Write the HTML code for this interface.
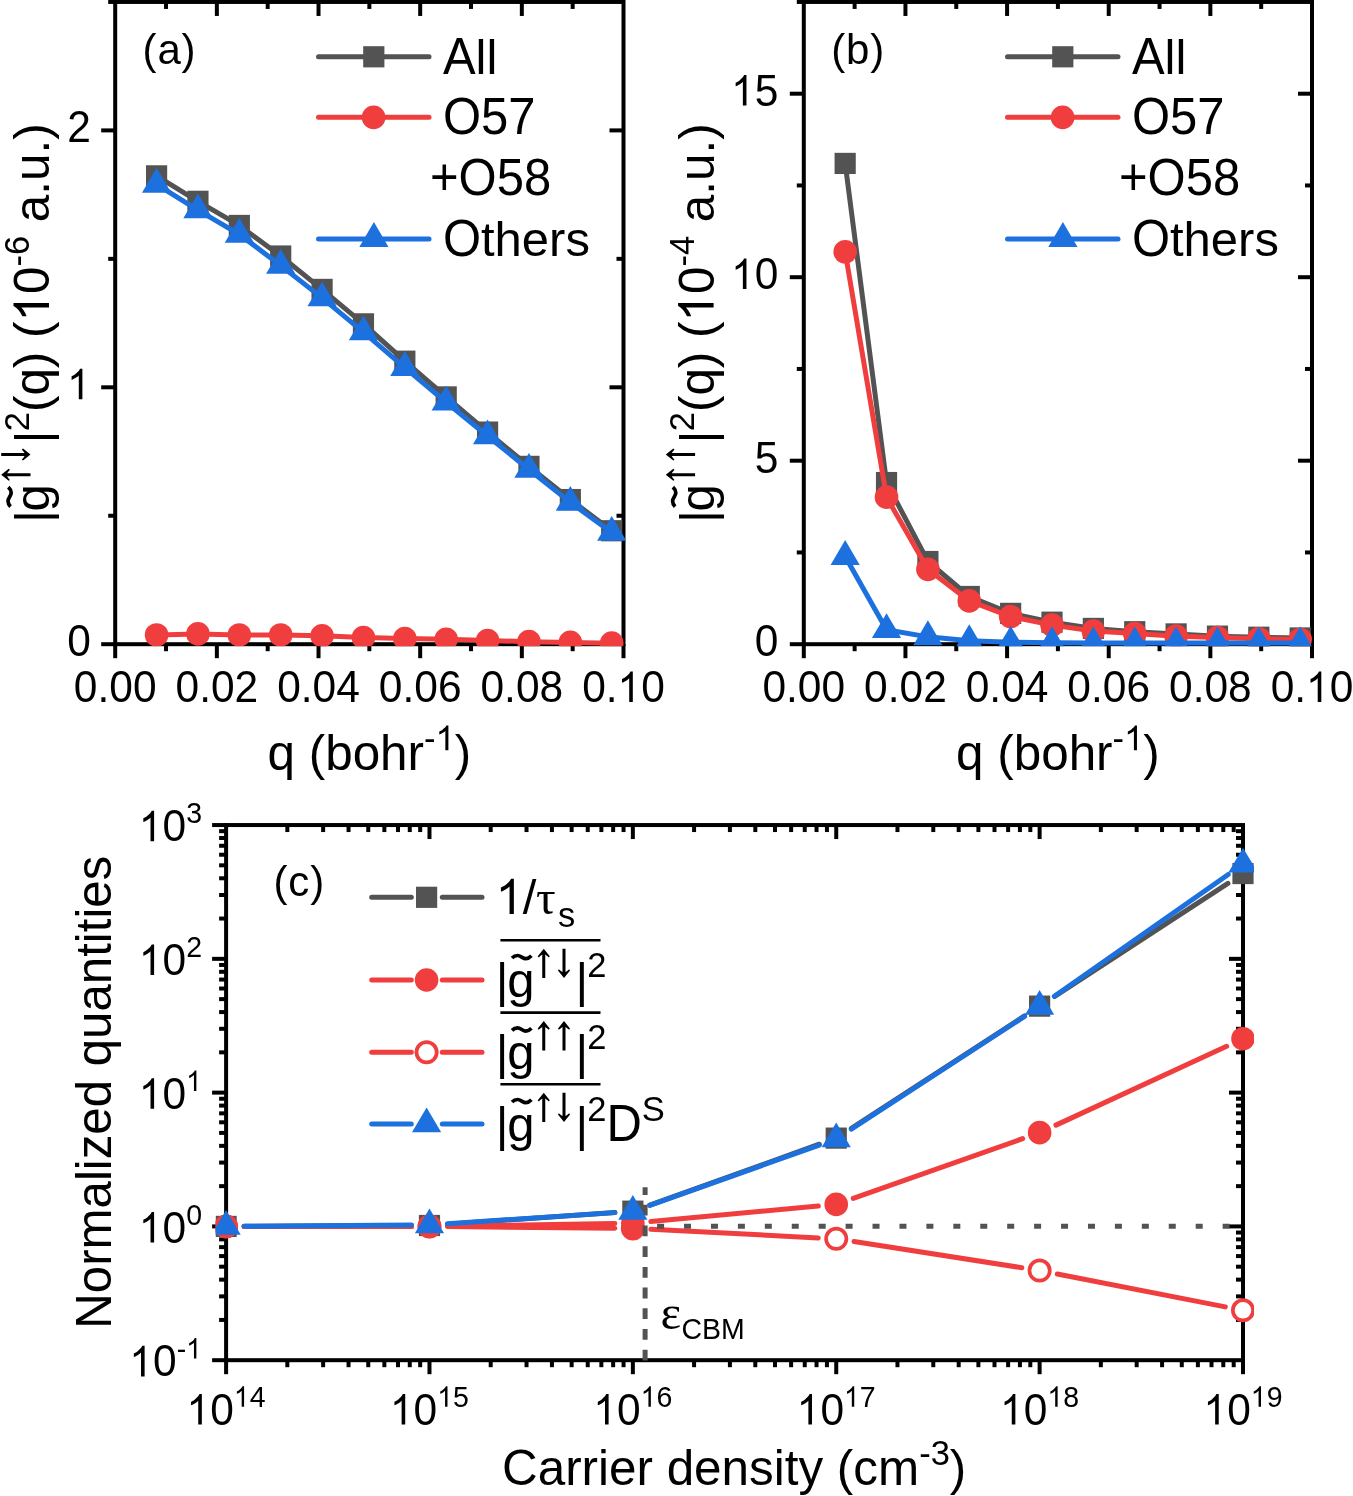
<!DOCTYPE html>
<html><head><meta charset="utf-8"><style>html,body{margin:0;padding:0;background:#fff;overflow:hidden}svg{display:block;will-change:transform}text{fill:#000}</style></head>
<body>
<svg width="1353" height="1496" viewBox="0 0 1353 1496" font-family="Liberation Sans, sans-serif">
<rect width="1353" height="1496" fill="#fff"/>
<clipPath id="clipa"><rect x="113.2" y="-0.05" width="512.3" height="646.25"/></clipPath>
<line x1="115.2" y1="644.2" x2="115.2" y2="658.2" stroke="#000" stroke-width="4" />
<line x1="166.03" y1="644.2" x2="166.03" y2="651.2" stroke="#000" stroke-width="4" />
<line x1="166.03" y1="1.95" x2="166.03" y2="8.95" stroke="#000" stroke-width="4" />
<line x1="216.86" y1="644.2" x2="216.86" y2="658.2" stroke="#000" stroke-width="4" />
<line x1="216.86" y1="1.95" x2="216.86" y2="15.95" stroke="#000" stroke-width="4" />
<line x1="267.69" y1="644.2" x2="267.69" y2="651.2" stroke="#000" stroke-width="4" />
<line x1="267.69" y1="1.95" x2="267.69" y2="8.95" stroke="#000" stroke-width="4" />
<line x1="318.52" y1="644.2" x2="318.52" y2="658.2" stroke="#000" stroke-width="4" />
<line x1="318.52" y1="1.95" x2="318.52" y2="15.95" stroke="#000" stroke-width="4" />
<line x1="369.35" y1="644.2" x2="369.35" y2="651.2" stroke="#000" stroke-width="4" />
<line x1="369.35" y1="1.95" x2="369.35" y2="8.95" stroke="#000" stroke-width="4" />
<line x1="420.18" y1="644.2" x2="420.18" y2="658.2" stroke="#000" stroke-width="4" />
<line x1="420.18" y1="1.95" x2="420.18" y2="15.95" stroke="#000" stroke-width="4" />
<line x1="471.01" y1="644.2" x2="471.01" y2="651.2" stroke="#000" stroke-width="4" />
<line x1="471.01" y1="1.95" x2="471.01" y2="8.95" stroke="#000" stroke-width="4" />
<line x1="521.84" y1="644.2" x2="521.84" y2="658.2" stroke="#000" stroke-width="4" />
<line x1="521.84" y1="1.95" x2="521.84" y2="15.95" stroke="#000" stroke-width="4" />
<line x1="572.67" y1="644.2" x2="572.67" y2="651.2" stroke="#000" stroke-width="4" />
<line x1="572.67" y1="1.95" x2="572.67" y2="8.95" stroke="#000" stroke-width="4" />
<line x1="623.5" y1="644.2" x2="623.5" y2="658.2" stroke="#000" stroke-width="4" />
<line x1="101.2" y1="644.2" x2="115.2" y2="644.2" stroke="#000" stroke-width="4" />
<line x1="108.2" y1="515.75" x2="115.2" y2="515.75" stroke="#000" stroke-width="4" />
<line x1="616.5" y1="515.75" x2="623.5" y2="515.75" stroke="#000" stroke-width="4" />
<line x1="101.2" y1="387.3" x2="115.2" y2="387.3" stroke="#000" stroke-width="4" />
<line x1="609.5" y1="387.3" x2="623.5" y2="387.3" stroke="#000" stroke-width="4" />
<line x1="108.2" y1="258.85" x2="115.2" y2="258.85" stroke="#000" stroke-width="4" />
<line x1="616.5" y1="258.85" x2="623.5" y2="258.85" stroke="#000" stroke-width="4" />
<line x1="101.2" y1="130.4" x2="115.2" y2="130.4" stroke="#000" stroke-width="4" />
<line x1="609.5" y1="130.4" x2="623.5" y2="130.4" stroke="#000" stroke-width="4" />
<line x1="108.2" y1="1.95" x2="115.2" y2="1.95" stroke="#000" stroke-width="4" />
<rect x="115.2" y="1.95" width="508.3" height="642.25" fill="none" stroke="#000" stroke-width="4" stroke-linejoin="miter"/>
<g transform="translate(73.84 702) scale(1 1.04)" ><text x="0" y="0" font-size="42.5">0.00</text></g>
<g transform="translate(175.5 702) scale(1 1.04)" ><text x="0" y="0" font-size="42.5">0.02</text></g>
<g transform="translate(277.16 702) scale(1 1.04)" ><text x="0" y="0" font-size="42.5">0.04</text></g>
<g transform="translate(378.82 702) scale(1 1.04)" ><text x="0" y="0" font-size="42.5">0.06</text></g>
<g transform="translate(480.48 702) scale(1 1.04)" ><text x="0" y="0" font-size="42.5">0.08</text></g>
<g transform="translate(582.14 702) scale(1 1.04)" ><text x="0" y="0" font-size="42.5">0.</text><path transform="translate(35.44 0) scale(0.019954 -0.019954)" d="M763 0L583 0L583 1147Q518 1085 465 1054Q412 1023 359 992Q306 961 222 930L222 1104Q373 1175 429.5 1225.5Q486 1276 542.5 1326.5Q599 1377 646 1472L763 1472Z"/><text x="59.08" y="0" font-size="42.5">0</text></g>
<g transform="translate(67.16 656.1) scale(1 1.04)" ><text x="0" y="0" font-size="42.5">0</text></g>
<g transform="translate(67.16 399.2) scale(1 1.04)" ><path transform="translate(0 0) scale(0.019954 -0.019954)" d="M763 0L583 0L583 1147Q518 1085 465 1054Q412 1023 359 992Q306 961 222 930L222 1104Q373 1175 429.5 1225.5Q486 1276 542.5 1326.5Q599 1377 646 1472L763 1472Z"/></g>
<g transform="translate(67.16 142.3) scale(1 1.04)" ><text x="0" y="0" font-size="42.5">2</text></g>
<g clip-path="url(#clipa)">
<path d="M156.58 175.87 L197.95 201.3 L239.33 225.45 L280.7 256.02 L322.08 289.42 L363.45 323.85 L404.83 361.2 L446.2 396.91 L487.58 432.08 L528.96 466.37 L570.33 499.57 L611.71 530.75" fill="none" stroke="#535353" stroke-width="5" stroke-linejoin="round" stroke-linecap="round"/>
<rect x="145.98" y="165.27" width="21.2" height="21.2" fill="#535353"/>
<rect x="187.35" y="190.7" width="21.2" height="21.2" fill="#535353"/>
<rect x="228.73" y="214.85" width="21.2" height="21.2" fill="#535353"/>
<rect x="270.1" y="245.42" width="21.2" height="21.2" fill="#535353"/>
<rect x="311.48" y="278.82" width="21.2" height="21.2" fill="#535353"/>
<rect x="352.85" y="313.25" width="21.2" height="21.2" fill="#535353"/>
<rect x="394.23" y="350.6" width="21.2" height="21.2" fill="#535353"/>
<rect x="435.6" y="386.31" width="21.2" height="21.2" fill="#535353"/>
<rect x="476.98" y="421.48" width="21.2" height="21.2" fill="#535353"/>
<rect x="518.36" y="455.77" width="21.2" height="21.2" fill="#535353"/>
<rect x="559.73" y="488.97" width="21.2" height="21.2" fill="#535353"/>
<rect x="601.11" y="520.15" width="21.2" height="21.2" fill="#535353"/>
<path d="M156.58 634.95 L197.95 633.92 L239.33 634.95 L280.7 634.95 L322.08 635.72 L363.45 637.52 L404.83 638.55 L446.2 639.32 L487.58 640.6 L528.96 641.63 L570.33 642.4 L611.71 643.17" fill="none" stroke="#F03E3E" stroke-width="5" stroke-linejoin="round" stroke-linecap="round"/>
<circle cx="156.58" cy="634.95" r="11.8" fill="#F03E3E"/>
<circle cx="197.95" cy="633.92" r="11.8" fill="#F03E3E"/>
<circle cx="239.33" cy="634.95" r="11.8" fill="#F03E3E"/>
<circle cx="280.7" cy="634.95" r="11.8" fill="#F03E3E"/>
<circle cx="322.08" cy="635.72" r="11.8" fill="#F03E3E"/>
<circle cx="363.45" cy="637.52" r="11.8" fill="#F03E3E"/>
<circle cx="404.83" cy="638.55" r="11.8" fill="#F03E3E"/>
<circle cx="446.2" cy="639.32" r="11.8" fill="#F03E3E"/>
<circle cx="487.58" cy="640.6" r="11.8" fill="#F03E3E"/>
<circle cx="528.96" cy="641.63" r="11.8" fill="#F03E3E"/>
<circle cx="570.33" cy="642.4" r="11.8" fill="#F03E3E"/>
<circle cx="611.71" cy="643.17" r="11.8" fill="#F03E3E"/>
<path d="M156.58 184.35 L197.95 210.04 L239.33 234.44 L280.7 265.53 L322.08 297.9 L363.45 332.07 L404.83 367.62 L446.2 402.3 L487.58 435.98 L528.96 469.51 L570.33 502.39 L611.71 532.45" fill="none" stroke="#1C71DE" stroke-width="5" stroke-linejoin="round" stroke-linecap="round"/>
<path d="M156.58 167.85L171.18 192.65L141.98 192.65Z" fill="#1C71DE"/>
<path d="M197.95 193.54L212.55 218.34L183.35 218.34Z" fill="#1C71DE"/>
<path d="M239.33 217.94L253.93 242.74L224.73 242.74Z" fill="#1C71DE"/>
<path d="M280.7 249.03L295.3 273.83L266.1 273.83Z" fill="#1C71DE"/>
<path d="M322.08 281.4L336.68 306.2L307.48 306.2Z" fill="#1C71DE"/>
<path d="M363.45 315.57L378.05 340.37L348.85 340.37Z" fill="#1C71DE"/>
<path d="M404.83 351.12L419.43 375.92L390.23 375.92Z" fill="#1C71DE"/>
<path d="M446.2 385.8L460.8 410.6L431.6 410.6Z" fill="#1C71DE"/>
<path d="M487.58 419.48L502.18 444.28L472.98 444.28Z" fill="#1C71DE"/>
<path d="M528.96 453.01L543.56 477.81L514.36 477.81Z" fill="#1C71DE"/>
<path d="M570.33 485.89L584.93 510.69L555.73 510.69Z" fill="#1C71DE"/>
<path d="M611.71 515.95L626.31 540.75L597.11 540.75Z" fill="#1C71DE"/>
</g>
<g transform="translate(267.53 770.2) scale(1 1.0)" ><text x="0" y="0" font-size="49.4">q (bohr</text><text x="156.52" y="-20" font-size="34.5">-</text><path transform="translate(168.01 -20) scale(0.016846 -0.016846)" d="M763 0L583 0L583 1147Q518 1085 465 1054Q412 1023 359 992Q306 961 222 930L222 1104Q373 1175 429.5 1225.5Q486 1276 542.5 1326.5Q599 1377 646 1472L763 1472Z"/><text x="187.2" y="0" font-size="49.4">)</text></g>
<g transform="translate(49 518.5) rotate(-90)">
<text x="-4.36" y="0" font-size="49">|</text>
<text x="7.04" y="0" font-size="49">g</text>
<path d="M11.9 -38.5C13.8 -40.4 15.4 -41 17.5 -41C20.6 -41 22.6 -37.8 25.8 -37.8C28 -37.8 29.6 -38.9 31.3 -40.7" fill="none" stroke="#000" stroke-width="3.7"/>
<path d="M43.65 -47.8L37.65 -40.3L38.55 -39.1Q40.65 -41 42.15 -41.9L42.15 -18.5L45.15 -18.5L45.15 -41.9Q46.65 -41 48.75 -39.1L49.65 -40.3Z" fill="#000"/>
<path d="M63.9 -18.5L57.9 -26L58.8 -27.2Q60.9 -25.3 62.4 -24.4L62.4 -47.8L65.4 -47.8L65.4 -24.4Q66.9 -25.3 69 -27.2L69.9 -26Z" fill="#000"/>
<text x="75.3" y="0" font-size="49">|</text>
<text x="87.2" y="-19.6" font-size="34.5">2</text>
<g transform="translate(106.43 0) scale(1 1.0)" ><text x="0" y="0" font-size="49.4">(q) (</text><path transform="translate(90.55 0) scale(0.024121 -0.024121)" d="M763 0L583 0L583 1147Q518 1085 465 1054Q412 1023 359 992Q306 961 222 930L222 1104Q373 1175 429.5 1225.5Q486 1276 542.5 1326.5Q599 1377 646 1472L763 1472Z"/><text x="118.02" y="0" font-size="49.4">0</text><text x="145.5" y="-20" font-size="34.5">-6</text><text x="189.9" y="0" font-size="49.4">a.u.)</text></g>
</g>
<line x1="318.5" y1="56.8" x2="429" y2="56.8" stroke="#535353" stroke-width="5" stroke-linecap="round"/>
<rect x="363.2" y="46.2" width="21.2" height="21.2" fill="#535353"/>
<line x1="318.5" y1="117.3" x2="429" y2="117.3" stroke="#F03E3E" stroke-width="5" stroke-linecap="round"/>
<circle cx="373.6" cy="117.4" r="11.8" fill="#F03E3E"/>
<line x1="318.5" y1="238.9" x2="429" y2="238.9" stroke="#1C71DE" stroke-width="5" stroke-linecap="round"/>
<path d="M373.9 222.1L388.5 246.9L359.3 246.9Z" fill="#1C71DE"/>
<text transform="translate(442.9 73.9) scale(1 1.045)" x="0" y="0" font-size="49">A</text>
<text x="475.58" y="73.9" font-size="49">ll</text>
<text transform="translate(442.9 134.4) scale(1 1.045)" x="0" y="0" font-size="49">O57</text>
<text transform="translate(430 194.7) scale(1 1.045)" x="0" y="0" font-size="49">+O58</text>
<text transform="translate(442.9 255.6) scale(1 1.045)" x="0" y="0" font-size="49">O</text>
<text x="481.01" y="255.6" font-size="49">thers</text>
<text x="142.6" y="64" font-size="42" text-anchor="start" letter-spacing="0.8">(a)</text>
<clipPath id="clipb"><rect x="801.8" y="-0.05" width="512.2" height="646.25"/></clipPath>
<line x1="803.8" y1="644.2" x2="803.8" y2="658.2" stroke="#000" stroke-width="4" />
<line x1="854.62" y1="644.2" x2="854.62" y2="651.2" stroke="#000" stroke-width="4" />
<line x1="854.62" y1="1.95" x2="854.62" y2="8.95" stroke="#000" stroke-width="4" />
<line x1="905.44" y1="644.2" x2="905.44" y2="658.2" stroke="#000" stroke-width="4" />
<line x1="905.44" y1="1.95" x2="905.44" y2="15.95" stroke="#000" stroke-width="4" />
<line x1="956.26" y1="644.2" x2="956.26" y2="651.2" stroke="#000" stroke-width="4" />
<line x1="956.26" y1="1.95" x2="956.26" y2="8.95" stroke="#000" stroke-width="4" />
<line x1="1007.08" y1="644.2" x2="1007.08" y2="658.2" stroke="#000" stroke-width="4" />
<line x1="1007.08" y1="1.95" x2="1007.08" y2="15.95" stroke="#000" stroke-width="4" />
<line x1="1057.9" y1="644.2" x2="1057.9" y2="651.2" stroke="#000" stroke-width="4" />
<line x1="1057.9" y1="1.95" x2="1057.9" y2="8.95" stroke="#000" stroke-width="4" />
<line x1="1108.72" y1="644.2" x2="1108.72" y2="658.2" stroke="#000" stroke-width="4" />
<line x1="1108.72" y1="1.95" x2="1108.72" y2="15.95" stroke="#000" stroke-width="4" />
<line x1="1159.54" y1="644.2" x2="1159.54" y2="651.2" stroke="#000" stroke-width="4" />
<line x1="1159.54" y1="1.95" x2="1159.54" y2="8.95" stroke="#000" stroke-width="4" />
<line x1="1210.36" y1="644.2" x2="1210.36" y2="658.2" stroke="#000" stroke-width="4" />
<line x1="1210.36" y1="1.95" x2="1210.36" y2="15.95" stroke="#000" stroke-width="4" />
<line x1="1261.18" y1="644.2" x2="1261.18" y2="651.2" stroke="#000" stroke-width="4" />
<line x1="1261.18" y1="1.95" x2="1261.18" y2="8.95" stroke="#000" stroke-width="4" />
<line x1="1312" y1="644.2" x2="1312" y2="658.2" stroke="#000" stroke-width="4" />
<line x1="789.8" y1="644.2" x2="803.8" y2="644.2" stroke="#000" stroke-width="4" />
<line x1="796.8" y1="552.45" x2="803.8" y2="552.45" stroke="#000" stroke-width="4" />
<line x1="1305" y1="552.45" x2="1312" y2="552.45" stroke="#000" stroke-width="4" />
<line x1="789.8" y1="460.7" x2="803.8" y2="460.7" stroke="#000" stroke-width="4" />
<line x1="1298" y1="460.7" x2="1312" y2="460.7" stroke="#000" stroke-width="4" />
<line x1="796.8" y1="368.95" x2="803.8" y2="368.95" stroke="#000" stroke-width="4" />
<line x1="1305" y1="368.95" x2="1312" y2="368.95" stroke="#000" stroke-width="4" />
<line x1="789.8" y1="277.2" x2="803.8" y2="277.2" stroke="#000" stroke-width="4" />
<line x1="1298" y1="277.2" x2="1312" y2="277.2" stroke="#000" stroke-width="4" />
<line x1="796.8" y1="185.45" x2="803.8" y2="185.45" stroke="#000" stroke-width="4" />
<line x1="1305" y1="185.45" x2="1312" y2="185.45" stroke="#000" stroke-width="4" />
<line x1="789.8" y1="93.7" x2="803.8" y2="93.7" stroke="#000" stroke-width="4" />
<line x1="1298" y1="93.7" x2="1312" y2="93.7" stroke="#000" stroke-width="4" />
<line x1="796.8" y1="1.95" x2="803.8" y2="1.95" stroke="#000" stroke-width="4" />
<rect x="803.8" y="1.95" width="508.2" height="642.25" fill="none" stroke="#000" stroke-width="4" stroke-linejoin="miter"/>
<g transform="translate(762.44 702) scale(1 1.04)" ><text x="0" y="0" font-size="42.5">0.00</text></g>
<g transform="translate(864.08 702) scale(1 1.04)" ><text x="0" y="0" font-size="42.5">0.02</text></g>
<g transform="translate(965.72 702) scale(1 1.04)" ><text x="0" y="0" font-size="42.5">0.04</text></g>
<g transform="translate(1067.36 702) scale(1 1.04)" ><text x="0" y="0" font-size="42.5">0.06</text></g>
<g transform="translate(1169 702) scale(1 1.04)" ><text x="0" y="0" font-size="42.5">0.08</text></g>
<g transform="translate(1270.64 702) scale(1 1.04)" ><text x="0" y="0" font-size="42.5">0.</text><path transform="translate(35.44 0) scale(0.019954 -0.019954)" d="M763 0L583 0L583 1147Q518 1085 465 1054Q412 1023 359 992Q306 961 222 930L222 1104Q373 1175 429.5 1225.5Q486 1276 542.5 1326.5Q599 1377 646 1472L763 1472Z"/><text x="59.08" y="0" font-size="42.5">0</text></g>
<g transform="translate(754.86 656.1) scale(1 1.04)" ><text x="0" y="0" font-size="42.5">0</text></g>
<g transform="translate(754.86 472.6) scale(1 1.04)" ><text x="0" y="0" font-size="42.5">5</text></g>
<g transform="translate(731.23 289.1) scale(1 1.04)" ><path transform="translate(0 0) scale(0.019954 -0.019954)" d="M763 0L583 0L583 1147Q518 1085 465 1054Q412 1023 359 992Q306 961 222 930L222 1104Q373 1175 429.5 1225.5Q486 1276 542.5 1326.5Q599 1377 646 1472L763 1472Z"/><text x="23.64" y="0" font-size="42.5">0</text></g>
<g transform="translate(731.23 105.6) scale(1 1.04)" ><path transform="translate(0 0) scale(0.019954 -0.019954)" d="M763 0L583 0L583 1147Q518 1085 465 1054Q412 1023 359 992Q306 961 222 930L222 1104Q373 1175 429.5 1225.5Q486 1276 542.5 1326.5Q599 1377 646 1472L763 1472Z"/><text x="23.64" y="0" font-size="42.5">5</text></g>
<g clip-path="url(#clipb)">
<path d="M845.17 163.43 L886.53 482.54 L927.9 561.51 L969.27 596.49 L1010.64 613.37 L1052 622.18 L1093.37 628.42 L1134.74 631.72 L1176.11 633.92 L1217.47 636.13 L1258.84 637.23 L1300.21 637.96" fill="none" stroke="#535353" stroke-width="5" stroke-linejoin="round" stroke-linecap="round"/>
<rect x="834.57" y="152.83" width="21.2" height="21.2" fill="#535353"/>
<rect x="875.93" y="471.94" width="21.2" height="21.2" fill="#535353"/>
<rect x="917.3" y="550.91" width="21.2" height="21.2" fill="#535353"/>
<rect x="958.67" y="585.89" width="21.2" height="21.2" fill="#535353"/>
<rect x="1000.04" y="602.77" width="21.2" height="21.2" fill="#535353"/>
<rect x="1041.4" y="611.58" width="21.2" height="21.2" fill="#535353"/>
<rect x="1082.77" y="617.82" width="21.2" height="21.2" fill="#535353"/>
<rect x="1124.14" y="621.12" width="21.2" height="21.2" fill="#535353"/>
<rect x="1165.51" y="623.32" width="21.2" height="21.2" fill="#535353"/>
<rect x="1206.87" y="625.53" width="21.2" height="21.2" fill="#535353"/>
<rect x="1248.24" y="626.63" width="21.2" height="21.2" fill="#535353"/>
<rect x="1289.61" y="627.36" width="21.2" height="21.2" fill="#535353"/>
<path d="M845.17 251.88 L886.53 497.14 L927.9 569.33 L969.27 600.89 L1010.64 616.56 L1052 625.12 L1093.37 630.99 L1134.74 633.56 L1176.11 636.13 L1217.47 637.59 L1258.84 638.7 L1300.21 639.43" fill="none" stroke="#F03E3E" stroke-width="5" stroke-linejoin="round" stroke-linecap="round"/>
<circle cx="845.17" cy="251.88" r="11.8" fill="#F03E3E"/>
<circle cx="886.53" cy="497.14" r="11.8" fill="#F03E3E"/>
<circle cx="927.9" cy="569.33" r="11.8" fill="#F03E3E"/>
<circle cx="969.27" cy="600.89" r="11.8" fill="#F03E3E"/>
<circle cx="1010.64" cy="616.56" r="11.8" fill="#F03E3E"/>
<circle cx="1052" cy="625.12" r="11.8" fill="#F03E3E"/>
<circle cx="1093.37" cy="630.99" r="11.8" fill="#F03E3E"/>
<circle cx="1134.74" cy="633.56" r="11.8" fill="#F03E3E"/>
<circle cx="1176.11" cy="636.13" r="11.8" fill="#F03E3E"/>
<circle cx="1217.47" cy="637.59" r="11.8" fill="#F03E3E"/>
<circle cx="1258.84" cy="638.7" r="11.8" fill="#F03E3E"/>
<circle cx="1300.21" cy="639.43" r="11.8" fill="#F03E3E"/>
<path d="M845.17 556.6 L886.53 629.78 L927.9 636.86 L969.27 640.79 L1010.64 642.18 L1052 642.73 L1093.37 642.92 L1134.74 643.1 L1176.11 643.1 L1217.47 643.1 L1258.84 643.1 L1300.21 643.1" fill="none" stroke="#1C71DE" stroke-width="5" stroke-linejoin="round" stroke-linecap="round"/>
<path d="M845.17 540.1L859.77 564.9L830.57 564.9Z" fill="#1C71DE"/>
<path d="M886.53 613.28L901.13 638.08L871.93 638.08Z" fill="#1C71DE"/>
<path d="M927.9 620.36L942.5 645.16L913.3 645.16Z" fill="#1C71DE"/>
<path d="M969.27 624.29L983.87 649.09L954.67 649.09Z" fill="#1C71DE"/>
<path d="M1010.64 625.68L1025.24 650.48L996.04 650.48Z" fill="#1C71DE"/>
<path d="M1052 626.23L1066.6 651.03L1037.4 651.03Z" fill="#1C71DE"/>
<path d="M1093.37 626.42L1107.97 651.22L1078.77 651.22Z" fill="#1C71DE"/>
<path d="M1134.74 626.6L1149.34 651.4L1120.14 651.4Z" fill="#1C71DE"/>
<path d="M1176.11 626.6L1190.71 651.4L1161.51 651.4Z" fill="#1C71DE"/>
<path d="M1217.47 626.6L1232.07 651.4L1202.87 651.4Z" fill="#1C71DE"/>
<path d="M1258.84 626.6L1273.44 651.4L1244.24 651.4Z" fill="#1C71DE"/>
<path d="M1300.21 626.6L1314.81 651.4L1285.61 651.4Z" fill="#1C71DE"/>
</g>
<g transform="translate(956.08 770.2) scale(1 1.0)" ><text x="0" y="0" font-size="49.4">q (bohr</text><text x="156.52" y="-20" font-size="34.5">-</text><path transform="translate(168.01 -20) scale(0.016846 -0.016846)" d="M763 0L583 0L583 1147Q518 1085 465 1054Q412 1023 359 992Q306 961 222 930L222 1104Q373 1175 429.5 1225.5Q486 1276 542.5 1326.5Q599 1377 646 1472L763 1472Z"/><text x="187.2" y="0" font-size="49.4">)</text></g>
<g transform="translate(713.6 518.5) rotate(-90)">
<text x="-4.36" y="0" font-size="49">|</text>
<text x="7.04" y="0" font-size="49">g</text>
<path d="M11.9 -38.5C13.8 -40.4 15.4 -41 17.5 -41C20.6 -41 22.6 -37.8 25.8 -37.8C28 -37.8 29.6 -38.9 31.3 -40.7" fill="none" stroke="#000" stroke-width="3.7"/>
<path d="M43.65 -47.8L37.65 -40.3L38.55 -39.1Q40.65 -41 42.15 -41.9L42.15 -18.5L45.15 -18.5L45.15 -41.9Q46.65 -41 48.75 -39.1L49.65 -40.3Z" fill="#000"/>
<path d="M63.9 -47.8L57.9 -40.3L58.8 -39.1Q60.9 -41 62.4 -41.9L62.4 -18.5L65.4 -18.5L65.4 -41.9Q66.9 -41 69 -39.1L69.9 -40.3Z" fill="#000"/>
<text x="75.3" y="0" font-size="49">|</text>
<text x="87.2" y="-19.6" font-size="34.5">2</text>
<g transform="translate(106.43 0) scale(1 1.0)" ><text x="0" y="0" font-size="49.4">(q) (</text><path transform="translate(90.55 0) scale(0.024121 -0.024121)" d="M763 0L583 0L583 1147Q518 1085 465 1054Q412 1023 359 992Q306 961 222 930L222 1104Q373 1175 429.5 1225.5Q486 1276 542.5 1326.5Q599 1377 646 1472L763 1472Z"/><text x="118.02" y="0" font-size="49.4">0</text><text x="145.5" y="-20" font-size="34.5">-4</text><text x="189.9" y="0" font-size="49.4">a.u.)</text></g>
</g>
<line x1="1007.5" y1="56.8" x2="1118" y2="56.8" stroke="#535353" stroke-width="5" stroke-linecap="round"/>
<rect x="1052.2" y="46.2" width="21.2" height="21.2" fill="#535353"/>
<line x1="1007.5" y1="117.3" x2="1118" y2="117.3" stroke="#F03E3E" stroke-width="5" stroke-linecap="round"/>
<circle cx="1062.6" cy="117.4" r="11.8" fill="#F03E3E"/>
<line x1="1007.5" y1="238.9" x2="1118" y2="238.9" stroke="#1C71DE" stroke-width="5" stroke-linecap="round"/>
<path d="M1062.9 222.1L1077.5 246.9L1048.3 246.9Z" fill="#1C71DE"/>
<text transform="translate(1131.9 73.9) scale(1 1.045)" x="0" y="0" font-size="49">A</text>
<text x="1164.58" y="73.9" font-size="49">ll</text>
<text transform="translate(1131.9 134.4) scale(1 1.045)" x="0" y="0" font-size="49">O57</text>
<text transform="translate(1119 194.7) scale(1 1.045)" x="0" y="0" font-size="49">+O58</text>
<text transform="translate(1131.9 255.6) scale(1 1.045)" x="0" y="0" font-size="49">O</text>
<text x="1170.01" y="255.6" font-size="49">thers</text>
<text x="831.3" y="64" font-size="42" text-anchor="start" letter-spacing="0.8">(b)</text>
<clipPath id="clipc"><rect x="215.6" y="814.05" width="1038.4" height="557.15"/></clipPath>
<line x1="226.1" y1="1360.2" x2="226.1" y2="1374.2" stroke="#000" stroke-width="4" />
<line x1="287.32" y1="1360.2" x2="287.32" y2="1367.2" stroke="#000" stroke-width="4" />
<line x1="287.32" y1="825.05" x2="287.32" y2="832.05" stroke="#000" stroke-width="4" />
<line x1="323.14" y1="1360.2" x2="323.14" y2="1367.2" stroke="#000" stroke-width="4" />
<line x1="323.14" y1="825.05" x2="323.14" y2="832.05" stroke="#000" stroke-width="4" />
<line x1="348.55" y1="1360.2" x2="348.55" y2="1367.2" stroke="#000" stroke-width="4" />
<line x1="348.55" y1="825.05" x2="348.55" y2="832.05" stroke="#000" stroke-width="4" />
<line x1="368.26" y1="1360.2" x2="368.26" y2="1367.2" stroke="#000" stroke-width="4" />
<line x1="368.26" y1="825.05" x2="368.26" y2="832.05" stroke="#000" stroke-width="4" />
<line x1="384.36" y1="1360.2" x2="384.36" y2="1367.2" stroke="#000" stroke-width="4" />
<line x1="384.36" y1="825.05" x2="384.36" y2="832.05" stroke="#000" stroke-width="4" />
<line x1="397.98" y1="1360.2" x2="397.98" y2="1367.2" stroke="#000" stroke-width="4" />
<line x1="397.98" y1="825.05" x2="397.98" y2="832.05" stroke="#000" stroke-width="4" />
<line x1="409.77" y1="1360.2" x2="409.77" y2="1367.2" stroke="#000" stroke-width="4" />
<line x1="409.77" y1="825.05" x2="409.77" y2="832.05" stroke="#000" stroke-width="4" />
<line x1="420.17" y1="1360.2" x2="420.17" y2="1367.2" stroke="#000" stroke-width="4" />
<line x1="420.17" y1="825.05" x2="420.17" y2="832.05" stroke="#000" stroke-width="4" />
<line x1="429.48" y1="1360.2" x2="429.48" y2="1374.2" stroke="#000" stroke-width="4" />
<line x1="429.48" y1="825.05" x2="429.48" y2="839.05" stroke="#000" stroke-width="4" />
<line x1="490.7" y1="1360.2" x2="490.7" y2="1367.2" stroke="#000" stroke-width="4" />
<line x1="490.7" y1="825.05" x2="490.7" y2="832.05" stroke="#000" stroke-width="4" />
<line x1="526.52" y1="1360.2" x2="526.52" y2="1367.2" stroke="#000" stroke-width="4" />
<line x1="526.52" y1="825.05" x2="526.52" y2="832.05" stroke="#000" stroke-width="4" />
<line x1="551.93" y1="1360.2" x2="551.93" y2="1367.2" stroke="#000" stroke-width="4" />
<line x1="551.93" y1="825.05" x2="551.93" y2="832.05" stroke="#000" stroke-width="4" />
<line x1="571.64" y1="1360.2" x2="571.64" y2="1367.2" stroke="#000" stroke-width="4" />
<line x1="571.64" y1="825.05" x2="571.64" y2="832.05" stroke="#000" stroke-width="4" />
<line x1="587.74" y1="1360.2" x2="587.74" y2="1367.2" stroke="#000" stroke-width="4" />
<line x1="587.74" y1="825.05" x2="587.74" y2="832.05" stroke="#000" stroke-width="4" />
<line x1="601.36" y1="1360.2" x2="601.36" y2="1367.2" stroke="#000" stroke-width="4" />
<line x1="601.36" y1="825.05" x2="601.36" y2="832.05" stroke="#000" stroke-width="4" />
<line x1="613.15" y1="1360.2" x2="613.15" y2="1367.2" stroke="#000" stroke-width="4" />
<line x1="613.15" y1="825.05" x2="613.15" y2="832.05" stroke="#000" stroke-width="4" />
<line x1="623.55" y1="1360.2" x2="623.55" y2="1367.2" stroke="#000" stroke-width="4" />
<line x1="623.55" y1="825.05" x2="623.55" y2="832.05" stroke="#000" stroke-width="4" />
<line x1="632.86" y1="1360.2" x2="632.86" y2="1374.2" stroke="#000" stroke-width="4" />
<line x1="632.86" y1="825.05" x2="632.86" y2="839.05" stroke="#000" stroke-width="4" />
<line x1="694.08" y1="1360.2" x2="694.08" y2="1367.2" stroke="#000" stroke-width="4" />
<line x1="694.08" y1="825.05" x2="694.08" y2="832.05" stroke="#000" stroke-width="4" />
<line x1="729.9" y1="1360.2" x2="729.9" y2="1367.2" stroke="#000" stroke-width="4" />
<line x1="729.9" y1="825.05" x2="729.9" y2="832.05" stroke="#000" stroke-width="4" />
<line x1="755.31" y1="1360.2" x2="755.31" y2="1367.2" stroke="#000" stroke-width="4" />
<line x1="755.31" y1="825.05" x2="755.31" y2="832.05" stroke="#000" stroke-width="4" />
<line x1="775.02" y1="1360.2" x2="775.02" y2="1367.2" stroke="#000" stroke-width="4" />
<line x1="775.02" y1="825.05" x2="775.02" y2="832.05" stroke="#000" stroke-width="4" />
<line x1="791.12" y1="1360.2" x2="791.12" y2="1367.2" stroke="#000" stroke-width="4" />
<line x1="791.12" y1="825.05" x2="791.12" y2="832.05" stroke="#000" stroke-width="4" />
<line x1="804.74" y1="1360.2" x2="804.74" y2="1367.2" stroke="#000" stroke-width="4" />
<line x1="804.74" y1="825.05" x2="804.74" y2="832.05" stroke="#000" stroke-width="4" />
<line x1="816.53" y1="1360.2" x2="816.53" y2="1367.2" stroke="#000" stroke-width="4" />
<line x1="816.53" y1="825.05" x2="816.53" y2="832.05" stroke="#000" stroke-width="4" />
<line x1="826.93" y1="1360.2" x2="826.93" y2="1367.2" stroke="#000" stroke-width="4" />
<line x1="826.93" y1="825.05" x2="826.93" y2="832.05" stroke="#000" stroke-width="4" />
<line x1="836.24" y1="1360.2" x2="836.24" y2="1374.2" stroke="#000" stroke-width="4" />
<line x1="836.24" y1="825.05" x2="836.24" y2="839.05" stroke="#000" stroke-width="4" />
<line x1="897.46" y1="1360.2" x2="897.46" y2="1367.2" stroke="#000" stroke-width="4" />
<line x1="897.46" y1="825.05" x2="897.46" y2="832.05" stroke="#000" stroke-width="4" />
<line x1="933.28" y1="1360.2" x2="933.28" y2="1367.2" stroke="#000" stroke-width="4" />
<line x1="933.28" y1="825.05" x2="933.28" y2="832.05" stroke="#000" stroke-width="4" />
<line x1="958.69" y1="1360.2" x2="958.69" y2="1367.2" stroke="#000" stroke-width="4" />
<line x1="958.69" y1="825.05" x2="958.69" y2="832.05" stroke="#000" stroke-width="4" />
<line x1="978.4" y1="1360.2" x2="978.4" y2="1367.2" stroke="#000" stroke-width="4" />
<line x1="978.4" y1="825.05" x2="978.4" y2="832.05" stroke="#000" stroke-width="4" />
<line x1="994.5" y1="1360.2" x2="994.5" y2="1367.2" stroke="#000" stroke-width="4" />
<line x1="994.5" y1="825.05" x2="994.5" y2="832.05" stroke="#000" stroke-width="4" />
<line x1="1008.12" y1="1360.2" x2="1008.12" y2="1367.2" stroke="#000" stroke-width="4" />
<line x1="1008.12" y1="825.05" x2="1008.12" y2="832.05" stroke="#000" stroke-width="4" />
<line x1="1019.91" y1="1360.2" x2="1019.91" y2="1367.2" stroke="#000" stroke-width="4" />
<line x1="1019.91" y1="825.05" x2="1019.91" y2="832.05" stroke="#000" stroke-width="4" />
<line x1="1030.31" y1="1360.2" x2="1030.31" y2="1367.2" stroke="#000" stroke-width="4" />
<line x1="1030.31" y1="825.05" x2="1030.31" y2="832.05" stroke="#000" stroke-width="4" />
<line x1="1039.62" y1="1360.2" x2="1039.62" y2="1374.2" stroke="#000" stroke-width="4" />
<line x1="1039.62" y1="825.05" x2="1039.62" y2="839.05" stroke="#000" stroke-width="4" />
<line x1="1100.84" y1="1360.2" x2="1100.84" y2="1367.2" stroke="#000" stroke-width="4" />
<line x1="1100.84" y1="825.05" x2="1100.84" y2="832.05" stroke="#000" stroke-width="4" />
<line x1="1136.66" y1="1360.2" x2="1136.66" y2="1367.2" stroke="#000" stroke-width="4" />
<line x1="1136.66" y1="825.05" x2="1136.66" y2="832.05" stroke="#000" stroke-width="4" />
<line x1="1162.07" y1="1360.2" x2="1162.07" y2="1367.2" stroke="#000" stroke-width="4" />
<line x1="1162.07" y1="825.05" x2="1162.07" y2="832.05" stroke="#000" stroke-width="4" />
<line x1="1181.78" y1="1360.2" x2="1181.78" y2="1367.2" stroke="#000" stroke-width="4" />
<line x1="1181.78" y1="825.05" x2="1181.78" y2="832.05" stroke="#000" stroke-width="4" />
<line x1="1197.88" y1="1360.2" x2="1197.88" y2="1367.2" stroke="#000" stroke-width="4" />
<line x1="1197.88" y1="825.05" x2="1197.88" y2="832.05" stroke="#000" stroke-width="4" />
<line x1="1211.5" y1="1360.2" x2="1211.5" y2="1367.2" stroke="#000" stroke-width="4" />
<line x1="1211.5" y1="825.05" x2="1211.5" y2="832.05" stroke="#000" stroke-width="4" />
<line x1="1223.29" y1="1360.2" x2="1223.29" y2="1367.2" stroke="#000" stroke-width="4" />
<line x1="1223.29" y1="825.05" x2="1223.29" y2="832.05" stroke="#000" stroke-width="4" />
<line x1="1233.69" y1="1360.2" x2="1233.69" y2="1367.2" stroke="#000" stroke-width="4" />
<line x1="1233.69" y1="825.05" x2="1233.69" y2="832.05" stroke="#000" stroke-width="4" />
<line x1="1243" y1="1360.2" x2="1243" y2="1374.2" stroke="#000" stroke-width="4" />
<line x1="212.1" y1="1360.2" x2="226.1" y2="1360.2" stroke="#000" stroke-width="4" />
<line x1="219.1" y1="1319.93" x2="226.1" y2="1319.93" stroke="#000" stroke-width="4" />
<line x1="1236" y1="1319.93" x2="1243" y2="1319.93" stroke="#000" stroke-width="4" />
<line x1="219.1" y1="1296.37" x2="226.1" y2="1296.37" stroke="#000" stroke-width="4" />
<line x1="1236" y1="1296.37" x2="1243" y2="1296.37" stroke="#000" stroke-width="4" />
<line x1="219.1" y1="1279.65" x2="226.1" y2="1279.65" stroke="#000" stroke-width="4" />
<line x1="1236" y1="1279.65" x2="1243" y2="1279.65" stroke="#000" stroke-width="4" />
<line x1="219.1" y1="1266.69" x2="226.1" y2="1266.69" stroke="#000" stroke-width="4" />
<line x1="1236" y1="1266.69" x2="1243" y2="1266.69" stroke="#000" stroke-width="4" />
<line x1="219.1" y1="1256.09" x2="226.1" y2="1256.09" stroke="#000" stroke-width="4" />
<line x1="1236" y1="1256.09" x2="1243" y2="1256.09" stroke="#000" stroke-width="4" />
<line x1="219.1" y1="1247.14" x2="226.1" y2="1247.14" stroke="#000" stroke-width="4" />
<line x1="1236" y1="1247.14" x2="1243" y2="1247.14" stroke="#000" stroke-width="4" />
<line x1="219.1" y1="1239.38" x2="226.1" y2="1239.38" stroke="#000" stroke-width="4" />
<line x1="1236" y1="1239.38" x2="1243" y2="1239.38" stroke="#000" stroke-width="4" />
<line x1="219.1" y1="1232.53" x2="226.1" y2="1232.53" stroke="#000" stroke-width="4" />
<line x1="1236" y1="1232.53" x2="1243" y2="1232.53" stroke="#000" stroke-width="4" />
<line x1="212.1" y1="1226.41" x2="226.1" y2="1226.41" stroke="#000" stroke-width="4" />
<line x1="1229" y1="1226.41" x2="1243" y2="1226.41" stroke="#000" stroke-width="4" />
<line x1="219.1" y1="1186.14" x2="226.1" y2="1186.14" stroke="#000" stroke-width="4" />
<line x1="1236" y1="1186.14" x2="1243" y2="1186.14" stroke="#000" stroke-width="4" />
<line x1="219.1" y1="1162.58" x2="226.1" y2="1162.58" stroke="#000" stroke-width="4" />
<line x1="1236" y1="1162.58" x2="1243" y2="1162.58" stroke="#000" stroke-width="4" />
<line x1="219.1" y1="1145.86" x2="226.1" y2="1145.86" stroke="#000" stroke-width="4" />
<line x1="1236" y1="1145.86" x2="1243" y2="1145.86" stroke="#000" stroke-width="4" />
<line x1="219.1" y1="1132.9" x2="226.1" y2="1132.9" stroke="#000" stroke-width="4" />
<line x1="1236" y1="1132.9" x2="1243" y2="1132.9" stroke="#000" stroke-width="4" />
<line x1="219.1" y1="1122.31" x2="226.1" y2="1122.31" stroke="#000" stroke-width="4" />
<line x1="1236" y1="1122.31" x2="1243" y2="1122.31" stroke="#000" stroke-width="4" />
<line x1="219.1" y1="1113.35" x2="226.1" y2="1113.35" stroke="#000" stroke-width="4" />
<line x1="1236" y1="1113.35" x2="1243" y2="1113.35" stroke="#000" stroke-width="4" />
<line x1="219.1" y1="1105.59" x2="226.1" y2="1105.59" stroke="#000" stroke-width="4" />
<line x1="1236" y1="1105.59" x2="1243" y2="1105.59" stroke="#000" stroke-width="4" />
<line x1="219.1" y1="1098.75" x2="226.1" y2="1098.75" stroke="#000" stroke-width="4" />
<line x1="1236" y1="1098.75" x2="1243" y2="1098.75" stroke="#000" stroke-width="4" />
<line x1="212.1" y1="1092.62" x2="226.1" y2="1092.62" stroke="#000" stroke-width="4" />
<line x1="1229" y1="1092.62" x2="1243" y2="1092.62" stroke="#000" stroke-width="4" />
<line x1="219.1" y1="1052.35" x2="226.1" y2="1052.35" stroke="#000" stroke-width="4" />
<line x1="1236" y1="1052.35" x2="1243" y2="1052.35" stroke="#000" stroke-width="4" />
<line x1="219.1" y1="1028.79" x2="226.1" y2="1028.79" stroke="#000" stroke-width="4" />
<line x1="1236" y1="1028.79" x2="1243" y2="1028.79" stroke="#000" stroke-width="4" />
<line x1="219.1" y1="1012.08" x2="226.1" y2="1012.08" stroke="#000" stroke-width="4" />
<line x1="1236" y1="1012.08" x2="1243" y2="1012.08" stroke="#000" stroke-width="4" />
<line x1="219.1" y1="999.11" x2="226.1" y2="999.11" stroke="#000" stroke-width="4" />
<line x1="1236" y1="999.11" x2="1243" y2="999.11" stroke="#000" stroke-width="4" />
<line x1="219.1" y1="988.52" x2="226.1" y2="988.52" stroke="#000" stroke-width="4" />
<line x1="1236" y1="988.52" x2="1243" y2="988.52" stroke="#000" stroke-width="4" />
<line x1="219.1" y1="979.56" x2="226.1" y2="979.56" stroke="#000" stroke-width="4" />
<line x1="1236" y1="979.56" x2="1243" y2="979.56" stroke="#000" stroke-width="4" />
<line x1="219.1" y1="971.8" x2="226.1" y2="971.8" stroke="#000" stroke-width="4" />
<line x1="1236" y1="971.8" x2="1243" y2="971.8" stroke="#000" stroke-width="4" />
<line x1="219.1" y1="964.96" x2="226.1" y2="964.96" stroke="#000" stroke-width="4" />
<line x1="1236" y1="964.96" x2="1243" y2="964.96" stroke="#000" stroke-width="4" />
<line x1="212.1" y1="958.84" x2="226.1" y2="958.84" stroke="#000" stroke-width="4" />
<line x1="1229" y1="958.84" x2="1243" y2="958.84" stroke="#000" stroke-width="4" />
<line x1="219.1" y1="918.56" x2="226.1" y2="918.56" stroke="#000" stroke-width="4" />
<line x1="1236" y1="918.56" x2="1243" y2="918.56" stroke="#000" stroke-width="4" />
<line x1="219.1" y1="895" x2="226.1" y2="895" stroke="#000" stroke-width="4" />
<line x1="1236" y1="895" x2="1243" y2="895" stroke="#000" stroke-width="4" />
<line x1="219.1" y1="878.29" x2="226.1" y2="878.29" stroke="#000" stroke-width="4" />
<line x1="1236" y1="878.29" x2="1243" y2="878.29" stroke="#000" stroke-width="4" />
<line x1="219.1" y1="865.32" x2="226.1" y2="865.32" stroke="#000" stroke-width="4" />
<line x1="1236" y1="865.32" x2="1243" y2="865.32" stroke="#000" stroke-width="4" />
<line x1="219.1" y1="854.73" x2="226.1" y2="854.73" stroke="#000" stroke-width="4" />
<line x1="1236" y1="854.73" x2="1243" y2="854.73" stroke="#000" stroke-width="4" />
<line x1="219.1" y1="845.77" x2="226.1" y2="845.77" stroke="#000" stroke-width="4" />
<line x1="1236" y1="845.77" x2="1243" y2="845.77" stroke="#000" stroke-width="4" />
<line x1="219.1" y1="838.02" x2="226.1" y2="838.02" stroke="#000" stroke-width="4" />
<line x1="1236" y1="838.02" x2="1243" y2="838.02" stroke="#000" stroke-width="4" />
<line x1="219.1" y1="831.17" x2="226.1" y2="831.17" stroke="#000" stroke-width="4" />
<line x1="1236" y1="831.17" x2="1243" y2="831.17" stroke="#000" stroke-width="4" />
<line x1="212.1" y1="825.05" x2="226.1" y2="825.05" stroke="#000" stroke-width="4" />
<rect x="226.1" y="825.05" width="1016.9" height="535.15" fill="none" stroke="#000" stroke-width="4" stroke-linejoin="miter"/>
<g transform="translate(186.61 1424.6) scale(1 1.04)" ><path transform="translate(0 0) scale(0.019954 -0.019954)" d="M763 0L583 0L583 1147Q518 1085 465 1054Q412 1023 359 992Q306 961 222 930L222 1104Q373 1175 429.5 1225.5Q486 1276 542.5 1326.5Q599 1377 646 1472L763 1472Z"/><text x="23.64" y="0" font-size="42.5">0</text><path transform="translate(47.27 -17.12) scale(0.013381 -0.013381)" d="M763 0L583 0L583 1147Q518 1085 465 1054Q412 1023 359 992Q306 961 222 930L222 1104Q373 1175 429.5 1225.5Q486 1276 542.5 1326.5Q599 1377 646 1472L763 1472Z"/><text x="63.12" y="-17.12" font-size="28.5">4</text></g>
<g transform="translate(389.99 1424.6) scale(1 1.04)" ><path transform="translate(0 0) scale(0.019954 -0.019954)" d="M763 0L583 0L583 1147Q518 1085 465 1054Q412 1023 359 992Q306 961 222 930L222 1104Q373 1175 429.5 1225.5Q486 1276 542.5 1326.5Q599 1377 646 1472L763 1472Z"/><text x="23.64" y="0" font-size="42.5">0</text><path transform="translate(47.27 -17.12) scale(0.013381 -0.013381)" d="M763 0L583 0L583 1147Q518 1085 465 1054Q412 1023 359 992Q306 961 222 930L222 1104Q373 1175 429.5 1225.5Q486 1276 542.5 1326.5Q599 1377 646 1472L763 1472Z"/><text x="63.12" y="-17.12" font-size="28.5">5</text></g>
<g transform="translate(593.37 1424.6) scale(1 1.04)" ><path transform="translate(0 0) scale(0.019954 -0.019954)" d="M763 0L583 0L583 1147Q518 1085 465 1054Q412 1023 359 992Q306 961 222 930L222 1104Q373 1175 429.5 1225.5Q486 1276 542.5 1326.5Q599 1377 646 1472L763 1472Z"/><text x="23.64" y="0" font-size="42.5">0</text><path transform="translate(47.27 -17.12) scale(0.013381 -0.013381)" d="M763 0L583 0L583 1147Q518 1085 465 1054Q412 1023 359 992Q306 961 222 930L222 1104Q373 1175 429.5 1225.5Q486 1276 542.5 1326.5Q599 1377 646 1472L763 1472Z"/><text x="63.12" y="-17.12" font-size="28.5">6</text></g>
<g transform="translate(796.75 1424.6) scale(1 1.04)" ><path transform="translate(0 0) scale(0.019954 -0.019954)" d="M763 0L583 0L583 1147Q518 1085 465 1054Q412 1023 359 992Q306 961 222 930L222 1104Q373 1175 429.5 1225.5Q486 1276 542.5 1326.5Q599 1377 646 1472L763 1472Z"/><text x="23.64" y="0" font-size="42.5">0</text><path transform="translate(47.27 -17.12) scale(0.013381 -0.013381)" d="M763 0L583 0L583 1147Q518 1085 465 1054Q412 1023 359 992Q306 961 222 930L222 1104Q373 1175 429.5 1225.5Q486 1276 542.5 1326.5Q599 1377 646 1472L763 1472Z"/><text x="63.12" y="-17.12" font-size="28.5">7</text></g>
<g transform="translate(1000.13 1424.6) scale(1 1.04)" ><path transform="translate(0 0) scale(0.019954 -0.019954)" d="M763 0L583 0L583 1147Q518 1085 465 1054Q412 1023 359 992Q306 961 222 930L222 1104Q373 1175 429.5 1225.5Q486 1276 542.5 1326.5Q599 1377 646 1472L763 1472Z"/><text x="23.64" y="0" font-size="42.5">0</text><path transform="translate(47.27 -17.12) scale(0.013381 -0.013381)" d="M763 0L583 0L583 1147Q518 1085 465 1054Q412 1023 359 992Q306 961 222 930L222 1104Q373 1175 429.5 1225.5Q486 1276 542.5 1326.5Q599 1377 646 1472L763 1472Z"/><text x="63.12" y="-17.12" font-size="28.5">8</text></g>
<g transform="translate(1203.51 1424.6) scale(1 1.04)" ><path transform="translate(0 0) scale(0.019954 -0.019954)" d="M763 0L583 0L583 1147Q518 1085 465 1054Q412 1023 359 992Q306 961 222 930L222 1104Q373 1175 429.5 1225.5Q486 1276 542.5 1326.5Q599 1377 646 1472L763 1472Z"/><text x="23.64" y="0" font-size="42.5">0</text><path transform="translate(47.27 -17.12) scale(0.013381 -0.013381)" d="M763 0L583 0L583 1147Q518 1085 465 1054Q412 1023 359 992Q306 961 222 930L222 1104Q373 1175 429.5 1225.5Q486 1276 542.5 1326.5Q599 1377 646 1472L763 1472Z"/><text x="63.12" y="-17.12" font-size="28.5">9</text></g>
<g transform="translate(129.39 1376.4) scale(1 1.04)" ><path transform="translate(0 0) scale(0.019954 -0.019954)" d="M763 0L583 0L583 1147Q518 1085 465 1054Q412 1023 359 992Q306 961 222 930L222 1104Q373 1175 429.5 1225.5Q486 1276 542.5 1326.5Q599 1377 646 1472L763 1472Z"/><text x="23.64" y="0" font-size="42.5">0</text><text x="47.27" y="-17.12" font-size="28.5">-</text><path transform="translate(56.76 -17.12) scale(0.013381 -0.013381)" d="M763 0L583 0L583 1147Q518 1085 465 1054Q412 1023 359 992Q306 961 222 930L222 1104Q373 1175 429.5 1225.5Q486 1276 542.5 1326.5Q599 1377 646 1472L763 1472Z"/></g>
<g transform="translate(138.88 1242.61) scale(1 1.04)" ><path transform="translate(0 0) scale(0.019954 -0.019954)" d="M763 0L583 0L583 1147Q518 1085 465 1054Q412 1023 359 992Q306 961 222 930L222 1104Q373 1175 429.5 1225.5Q486 1276 542.5 1326.5Q599 1377 646 1472L763 1472Z"/><text x="23.64" y="0" font-size="42.5">0</text><text x="47.27" y="-17.12" font-size="28.5">0</text></g>
<g transform="translate(138.88 1108.83) scale(1 1.04)" ><path transform="translate(0 0) scale(0.019954 -0.019954)" d="M763 0L583 0L583 1147Q518 1085 465 1054Q412 1023 359 992Q306 961 222 930L222 1104Q373 1175 429.5 1225.5Q486 1276 542.5 1326.5Q599 1377 646 1472L763 1472Z"/><text x="23.64" y="0" font-size="42.5">0</text><path transform="translate(47.27 -17.12) scale(0.013381 -0.013381)" d="M763 0L583 0L583 1147Q518 1085 465 1054Q412 1023 359 992Q306 961 222 930L222 1104Q373 1175 429.5 1225.5Q486 1276 542.5 1326.5Q599 1377 646 1472L763 1472Z"/></g>
<g transform="translate(138.88 975.04) scale(1 1.04)" ><path transform="translate(0 0) scale(0.019954 -0.019954)" d="M763 0L583 0L583 1147Q518 1085 465 1054Q412 1023 359 992Q306 961 222 930L222 1104Q373 1175 429.5 1225.5Q486 1276 542.5 1326.5Q599 1377 646 1472L763 1472Z"/><text x="23.64" y="0" font-size="42.5">0</text><text x="47.27" y="-17.12" font-size="28.5">2</text></g>
<g transform="translate(138.88 841.25) scale(1 1.04)" ><path transform="translate(0 0) scale(0.019954 -0.019954)" d="M763 0L583 0L583 1147Q518 1085 465 1054Q412 1023 359 992Q306 961 222 930L222 1104Q373 1175 429.5 1225.5Q486 1276 542.5 1326.5Q599 1377 646 1472L763 1472Z"/><text x="23.64" y="0" font-size="42.5">0</text><text x="47.27" y="-17.12" font-size="28.5">3</text></g>
<g clip-path="url(#clipc)">
<line x1="244.1" y1="1226.33" x2="411.48" y2="1225.57" stroke="#535353" stroke-width="5" stroke-linecap="round"/>
<line x1="447.44" y1="1224.23" x2="614.9" y2="1212.43" stroke="#535353" stroke-width="5" stroke-linecap="round"/>
<line x1="649.8" y1="1205.08" x2="819.3" y2="1144.21" stroke="#535353" stroke-width="5" stroke-linecap="round"/>
<line x1="851.34" y1="1128.33" x2="1024.52" y2="1015.94" stroke="#535353" stroke-width="5" stroke-linecap="round"/>
<line x1="1054.7" y1="996.31" x2="1227.92" y2="883.38" stroke="#535353" stroke-width="5" stroke-linecap="round"/>
<rect x="215.5" y="1215.81" width="21.2" height="21.2" fill="#535353"/>
<rect x="418.88" y="1214.89" width="21.2" height="21.2" fill="#535353"/>
<rect x="622.26" y="1200.57" width="21.2" height="21.2" fill="#535353"/>
<rect x="825.64" y="1127.52" width="21.2" height="21.2" fill="#535353"/>
<rect x="1029.02" y="995.54" width="21.2" height="21.2" fill="#535353"/>
<rect x="1232.4" y="862.95" width="21.2" height="21.2" fill="#535353"/>
<line x1="244.1" y1="1226.41" x2="411.48" y2="1226.41" stroke="#F03E3E" stroke-width="5" stroke-linecap="round"/>
<line x1="447.48" y1="1226.59" x2="614.86" y2="1228.24" stroke="#F03E3E" stroke-width="5" stroke-linecap="round"/>
<line x1="650.84" y1="1229.34" x2="818.26" y2="1237.88" stroke="#F03E3E" stroke-width="5" stroke-linecap="round"/>
<line x1="854.02" y1="1241.57" x2="1021.84" y2="1267.75" stroke="#F03E3E" stroke-width="5" stroke-linecap="round"/>
<line x1="1057.29" y1="1273.98" x2="1225.33" y2="1306.85" stroke="#F03E3E" stroke-width="5" stroke-linecap="round"/>
<circle cx="226.1" cy="1226.41" r="10.15" fill="#fff" stroke="#F03E3E" stroke-width="3.7"/>
<circle cx="429.48" cy="1226.41" r="10.15" fill="#fff" stroke="#F03E3E" stroke-width="3.7"/>
<circle cx="632.86" cy="1228.42" r="10.15" fill="#fff" stroke="#F03E3E" stroke-width="3.7"/>
<circle cx="836.24" cy="1238.8" r="10.15" fill="#fff" stroke="#F03E3E" stroke-width="3.7"/>
<circle cx="1039.62" cy="1270.53" r="10.15" fill="#fff" stroke="#F03E3E" stroke-width="3.7"/>
<circle cx="1243" cy="1310.31" r="10.15" fill="#fff" stroke="#F03E3E" stroke-width="3.7"/>
<circle cx="632.86" cy="1228.42" r="10" fill="#F03E3E"/>
<line x1="244.1" y1="1226.41" x2="411.48" y2="1226.41" stroke="#F03E3E" stroke-width="5" stroke-linecap="round"/>
<line x1="447.48" y1="1226.13" x2="614.86" y2="1223.53" stroke="#F03E3E" stroke-width="5" stroke-linecap="round"/>
<line x1="650.78" y1="1221.59" x2="818.32" y2="1206.08" stroke="#F03E3E" stroke-width="5" stroke-linecap="round"/>
<line x1="853.21" y1="1198.44" x2="1022.65" y2="1138.66" stroke="#F03E3E" stroke-width="5" stroke-linecap="round"/>
<line x1="1055.96" y1="1125.12" x2="1226.66" y2="1046.24" stroke="#F03E3E" stroke-width="5" stroke-linecap="round"/>
<circle cx="226.1" cy="1226.41" r="11.8" fill="#F03E3E"/>
<circle cx="429.48" cy="1226.41" r="11.8" fill="#F03E3E"/>
<circle cx="632.86" cy="1223.25" r="11.8" fill="#F03E3E"/>
<circle cx="836.24" cy="1204.42" r="11.8" fill="#F03E3E"/>
<circle cx="1039.62" cy="1132.67" r="11.8" fill="#F03E3E"/>
<circle cx="1243" cy="1038.69" r="11.8" fill="#F03E3E"/>
<line x1="645.1" y1="1360.5" x2="645.1" y2="1187.2" stroke="#535353" stroke-width="5" stroke-dasharray="10.8 9.9"/>
<line x1="657.1" y1="1226.2" x2="1242" y2="1226.2" stroke="#535353" stroke-width="5" stroke-dasharray="7 19.93"/>
<line x1="244.1" y1="1226.28" x2="411.48" y2="1225.05" stroke="#1C71DE" stroke-width="5" stroke-linecap="round"/>
<line x1="447.44" y1="1223.73" x2="614.9" y2="1212.63" stroke="#1C71DE" stroke-width="5" stroke-linecap="round"/>
<line x1="649.82" y1="1205.4" x2="819.28" y2="1145.06" stroke="#1C71DE" stroke-width="5" stroke-linecap="round"/>
<line x1="851.32" y1="1129.2" x2="1024.54" y2="1016.36" stroke="#1C71DE" stroke-width="5" stroke-linecap="round"/>
<line x1="1054.37" y1="996.22" x2="1228.25" y2="874.5" stroke="#1C71DE" stroke-width="5" stroke-linecap="round"/>
<path d="M226.1 1209.91L240.7 1234.71L211.5 1234.71Z" fill="#1C71DE"/>
<path d="M429.48 1208.42L444.08 1233.22L414.88 1233.22Z" fill="#1C71DE"/>
<path d="M632.86 1194.94L647.46 1219.74L618.26 1219.74Z" fill="#1C71DE"/>
<path d="M836.24 1122.52L850.84 1147.32L821.64 1147.32Z" fill="#1C71DE"/>
<path d="M1039.62 990.04L1054.22 1014.84L1025.02 1014.84Z" fill="#1C71DE"/>
<path d="M1243 847.67L1257.6 872.47L1228.4 872.47Z" fill="#1C71DE"/>
</g>
<text x="660.5" y="1328.6" font-size="49" font-family="Liberation Serif, serif">ε</text>
<text transform="translate(681.5 1339.3) scale(1 1.04)" x="0" y="0" font-size="28.5">CBM</text>
<text x="273.4" y="896.2" font-size="42" text-anchor="start" letter-spacing="0.9">(c)</text>
<text x="734.15" y="1484.8" font-size="49.4" text-anchor="middle">Carrier density (cm<tspan font-size="34.5" dy="-20">-3</tspan><tspan dy="20">)</tspan></text>
<text transform="translate(111 1092.2) rotate(-90)" x="0" y="0" font-size="49.2" text-anchor="middle">Normalized quantities</text>
<line x1="371.7" y1="897.3" x2="411.3" y2="897.3" stroke="#535353" stroke-width="5" stroke-linecap="round"/>
<line x1="442.3" y1="897.3" x2="482" y2="897.3" stroke="#535353" stroke-width="5" stroke-linecap="round"/>
<rect x="416" y="886.7" width="21.2" height="21.2" fill="#535353"/>
<line x1="371.7" y1="980" x2="411.3" y2="980" stroke="#F03E3E" stroke-width="5" stroke-linecap="round"/>
<line x1="442.3" y1="980" x2="482" y2="980" stroke="#F03E3E" stroke-width="5" stroke-linecap="round"/>
<circle cx="426.6" cy="980" r="11.8" fill="#F03E3E"/>
<line x1="371.7" y1="1052.3" x2="411.3" y2="1052.3" stroke="#F03E3E" stroke-width="5" stroke-linecap="round"/>
<line x1="442.3" y1="1052.3" x2="482" y2="1052.3" stroke="#F03E3E" stroke-width="5" stroke-linecap="round"/>
<circle cx="426.6" cy="1052.3" r="10.15" fill="#fff" stroke="#F03E3E" stroke-width="3.7"/>
<line x1="371.7" y1="1123.9" x2="411.3" y2="1123.9" stroke="#1C71DE" stroke-width="5" stroke-linecap="round"/>
<line x1="442.3" y1="1123.9" x2="482" y2="1123.9" stroke="#1C71DE" stroke-width="5" stroke-linecap="round"/>
<path d="M426.6 1107.4L441.2 1132.2L412 1132.2Z" fill="#1C71DE"/>
<g transform="translate(495.6 914) scale(1 1.0)" ><path transform="translate(0 0) scale(0.023926 -0.023926)" d="M763 0L583 0L583 1147Q518 1085 465 1054Q412 1023 359 992Q306 961 222 930L222 1104Q373 1175 429.5 1225.5Q486 1276 542.5 1326.5Q599 1377 646 1472L763 1472Z"/><text x="27.25" y="0" font-size="49">/</text></g>
<text x="536.1" y="914" font-size="49" font-family="Liberation Serif, serif">τ</text>
<text x="558" y="927.4" font-size="34.5">s</text>
<g transform="translate(500.1 996.5)">
<text x="-4.36" y="0" font-size="49">|</text>
<text x="7.04" y="0" font-size="49">g</text>
<path d="M11.9 -38.5C13.8 -40.4 15.4 -41 17.5 -41C20.6 -41 22.6 -37.8 25.8 -37.8C28 -37.8 29.6 -38.9 31.3 -40.7" fill="none" stroke="#000" stroke-width="3.7"/>
<path d="M43.65 -47.8L37.65 -40.3L38.55 -39.1Q40.65 -41 42.15 -41.9L42.15 -18.5L45.15 -18.5L45.15 -41.9Q46.65 -41 48.75 -39.1L49.65 -40.3Z" fill="#000"/>
<path d="M63.9 -18.5L57.9 -26L58.8 -27.2Q60.9 -25.3 62.4 -24.4L62.4 -47.8L65.4 -47.8L65.4 -24.4Q66.9 -25.3 69 -27.2L69.9 -26Z" fill="#000"/>
<text x="75.3" y="0" font-size="49">|</text>
<text x="87.2" y="-19.6" font-size="34.5">2</text>
</g>
<line x1="500.4" y1="940.2" x2="600.5" y2="940.2" stroke="#000" stroke-width="2.6"/>
<g transform="translate(500.1 1068.9)">
<text x="-4.36" y="0" font-size="49">|</text>
<text x="7.04" y="0" font-size="49">g</text>
<path d="M11.9 -38.5C13.8 -40.4 15.4 -41 17.5 -41C20.6 -41 22.6 -37.8 25.8 -37.8C28 -37.8 29.6 -38.9 31.3 -40.7" fill="none" stroke="#000" stroke-width="3.7"/>
<path d="M43.65 -47.8L37.65 -40.3L38.55 -39.1Q40.65 -41 42.15 -41.9L42.15 -18.5L45.15 -18.5L45.15 -41.9Q46.65 -41 48.75 -39.1L49.65 -40.3Z" fill="#000"/>
<path d="M63.9 -47.8L57.9 -40.3L58.8 -39.1Q60.9 -41 62.4 -41.9L62.4 -18.5L65.4 -18.5L65.4 -41.9Q66.9 -41 69 -39.1L69.9 -40.3Z" fill="#000"/>
<text x="75.3" y="0" font-size="49">|</text>
<text x="87.2" y="-19.6" font-size="34.5">2</text>
</g>
<line x1="500.4" y1="1012.6" x2="600.5" y2="1012.6" stroke="#000" stroke-width="2.6"/>
<g transform="translate(500.1 1140.5)">
<text x="-4.36" y="0" font-size="49">|</text>
<text x="7.04" y="0" font-size="49">g</text>
<path d="M11.9 -38.5C13.8 -40.4 15.4 -41 17.5 -41C20.6 -41 22.6 -37.8 25.8 -37.8C28 -37.8 29.6 -38.9 31.3 -40.7" fill="none" stroke="#000" stroke-width="3.7"/>
<path d="M43.65 -47.8L37.65 -40.3L38.55 -39.1Q40.65 -41 42.15 -41.9L42.15 -18.5L45.15 -18.5L45.15 -41.9Q46.65 -41 48.75 -39.1L49.65 -40.3Z" fill="#000"/>
<path d="M63.9 -18.5L57.9 -26L58.8 -27.2Q60.9 -25.3 62.4 -24.4L62.4 -47.8L65.4 -47.8L65.4 -24.4Q66.9 -25.3 69 -27.2L69.9 -26Z" fill="#000"/>
<text x="75.3" y="0" font-size="49">|</text>
<text x="87.2" y="-19.6" font-size="34.5">2</text>
</g>
<line x1="500.4" y1="1084.2" x2="600.5" y2="1084.2" stroke="#000" stroke-width="2.6"/>
<text transform="translate(606.4 1140.5) scale(1 1.06)" x="0" y="0" font-size="49">D</text>
<text transform="translate(641.8 1120.6) scale(1 1.04)" x="0" y="0" font-size="34.5">S</text>
</svg>
</body></html>
